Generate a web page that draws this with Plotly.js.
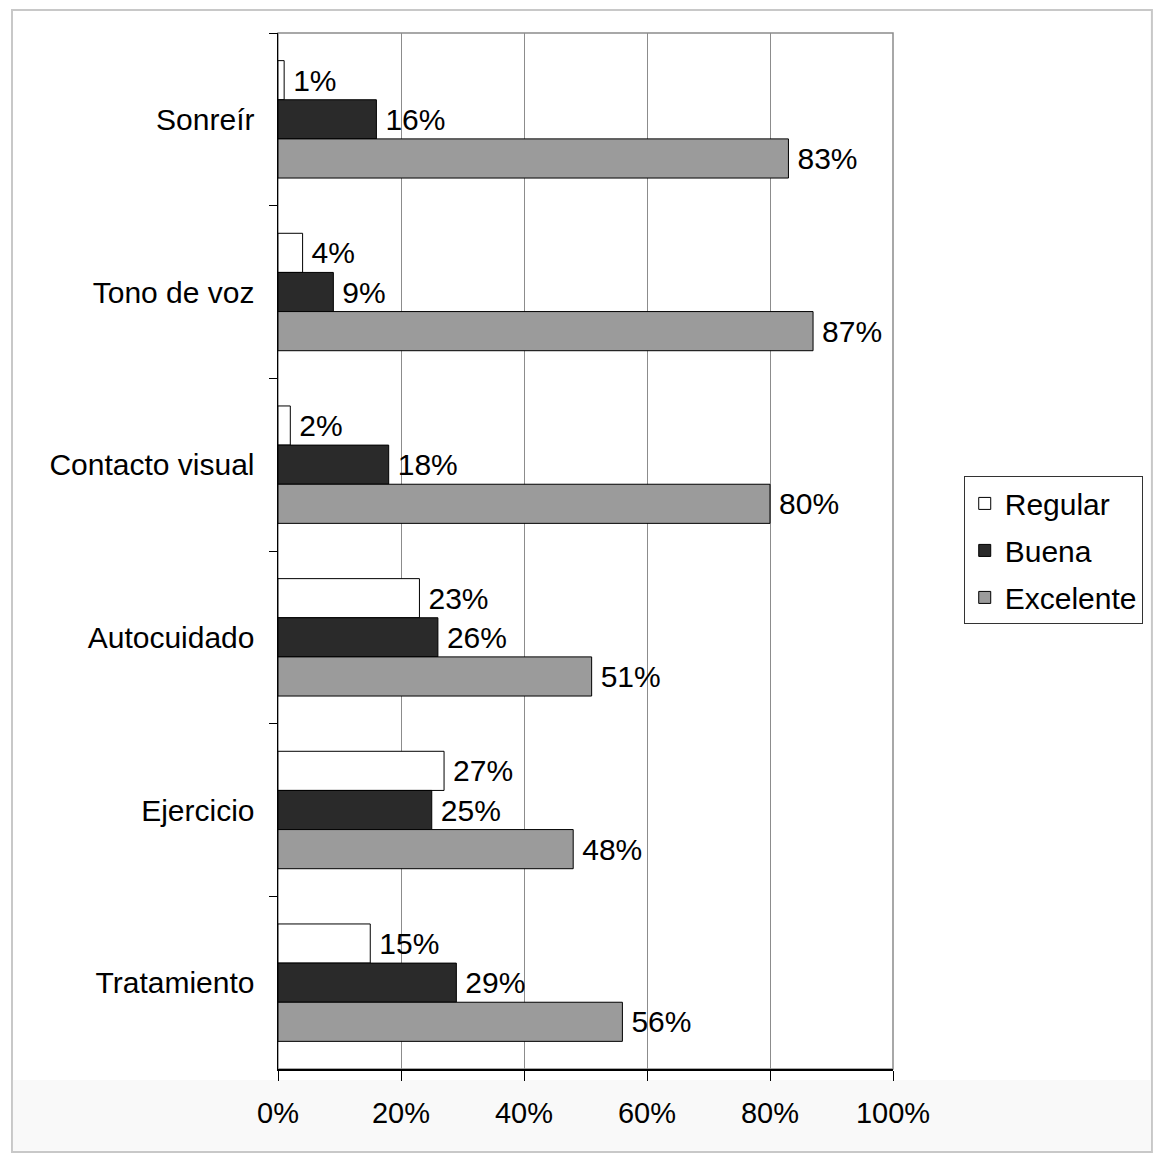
<!DOCTYPE html>
<html>
<head>
<meta charset="utf-8">
<script src="https://cdn.plot.ly/plotly-3.0.1.min.js"></script>
<style>
  html, body { margin: 0; padding: 0; background: #ffffff; }
  #chart { width: 1160px; height: 1163px; }
</style>
</head>
<body>
<div id="chart"></div>
<script>
// Categories, top to bottom
const categories = ['Sonreír', 'Tono de voz', 'Contacto visual', 'Autocuidado', 'Ejercicio', 'Tratamiento'];

// Percentages per rating
const regular   = [1, 4, 2, 23, 27, 15];
const buena     = [16, 9, 18, 26, 25, 29];
const excelente = [83, 87, 80, 51, 48, 56];

const xTicks = [0, 20, 40, 60, 80, 100];

const FONT = 'Liberation Sans, Arial, sans-serif';

function barTrace(name, values, fill) {
  return {
    type: 'bar',
    orientation: 'h',
    name: name,
    legendgroup: name,
    x: values,
    y: categories,
    marker: { color: fill, line: { color: '#000000', width: 1 } },
    // a thin space keeps the label clear of the bar end
    text: values.map(v => '\u2009' + v + '%'),
    textposition: 'outside',
    constraintext: 'none',
    cliponaxis: false,
    textfont: { family: FONT, size: 30, color: '#000000' },
    hoverinfo: 'skip'
  };
}

const data = [
  barTrace('Regular', regular, '#ffffff'),
  barTrace('Buena', buena, '#2a2a2a'),
  barTrace('Excelente', excelente, '#9b9b9b')
];

const layout = {
  width: 1160,
  height: 1163,
  margin: { l: 278, r: 267, t: 33, b: 94, pad: 0 },
  paper_bgcolor: '#ffffff',
  plot_bgcolor: 'rgba(0,0,0,0)',
  font: { family: FONT, size: 30, color: '#000000' },
  barmode: 'group',
  bargap: 0.32,
  bargroupgap: 0,
  showlegend: true,
  legend: {
    x: 1.115, y: 0.572, xanchor: 'left', yanchor: 'top',
    bgcolor: '#ffffff', bordercolor: '#333333', borderwidth: 1,
    font: { family: FONT, size: 30, color: '#000000' },
    traceorder: 'grouped',
    tracegroupgap: 5,
    itemwidth: 30
  },
  xaxis: {
    range: [0, 100],
    tickvals: xTicks,
    ticktext: xTicks.map(v => v + '%'),
    showgrid: true,
    gridcolor: '#8c8c8c',
    gridwidth: 1,
    zeroline: false,
    showline: true,
    linecolor: '#000000',
    linewidth: 1.5,
    ticks: 'outside',
    ticklen: 10,
    tickcolor: '#000000',
    ticklabelstandoff: 8,
    tickfont: { family: FONT, size: 29, color: '#000000' },
    fixedrange: true
  },
  yaxis: {
    type: 'category',
    categoryorder: 'array',
    categoryarray: categories,
    autorange: 'reversed',
    showgrid: false,
    zeroline: false,
    showline: true,
    linecolor: '#000000',
    linewidth: 1.5,
    ticks: 'outside',
    tickson: 'boundaries',
    ticklen: 8,
    tickcolor: '#000000',
    ticklabelstandoff: 16,
    tickfont: { family: FONT, size: 30, color: '#000000' },
    fixedrange: true
  },
  shapes: [
    // outer chart frame
    { type: 'rect', xref: 'paper', yref: 'paper', layer: 'below',
      x0: -0.4325, x1: 1.421, y0: -0.0801, y1: 1.0222,
      line: { color: '#c8c8c8', width: 2 }, fillcolor: '#ffffff' },
    // pale band under the category axis
    { type: 'rect', xref: 'paper', yref: 'paper', layer: 'below',
      x0: -0.4310, x1: 1.4195, y0: -0.0790, y1: -0.0106,
      line: { width: 0 }, fillcolor: '#f9f9f9' },
    // plot area border
    { type: 'rect', xref: 'paper', yref: 'paper', layer: 'below',
      x0: 0, x1: 1, y0: 0, y1: 1,
      line: { color: '#8c8c8c', width: 1.5 }, fillcolor: '#ffffff' }
  ]
};

Plotly.newPlot('chart', data, layout, { displayModeBar: false, staticPlot: true });
</script>
</body>
</html>
